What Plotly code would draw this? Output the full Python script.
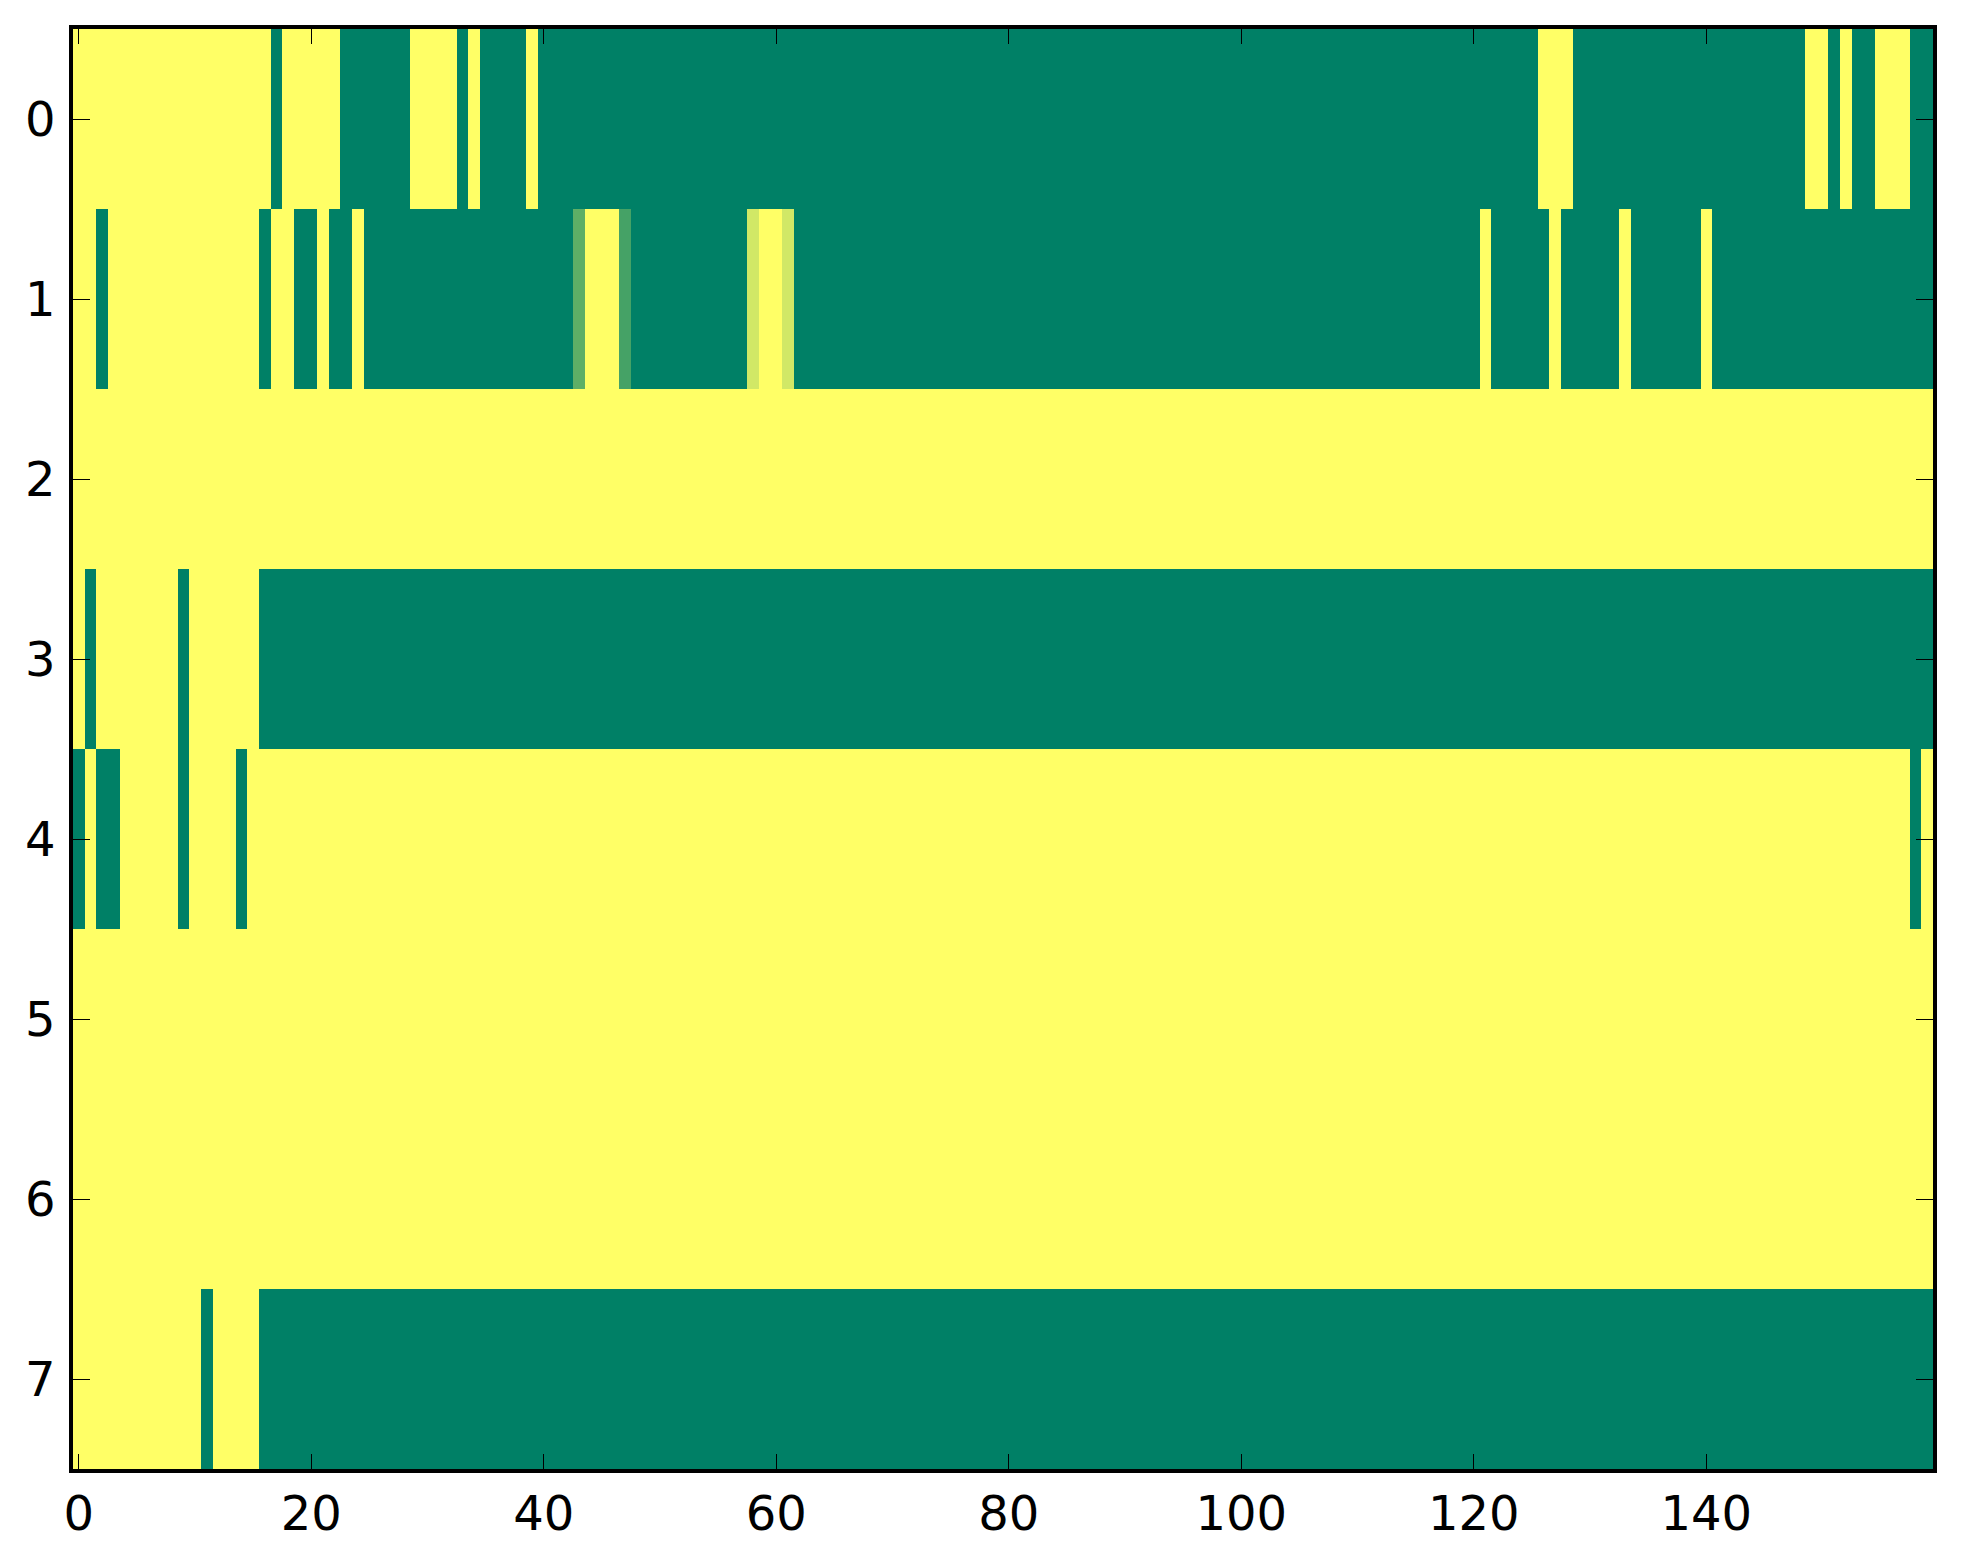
import plotly.graph_objects as go

N_COLS = 160
N_ROWS = 8

# Each row as runs of (first_col, last_col, value)
row0_runs = [(0, 16, 1), (17, 17, 0), (18, 22, 1), (23, 28, 0), (29, 32, 1), (33, 33, 0),
             (34, 34, 1), (35, 38, 0), (39, 39, 1), (40, 125, 0), (126, 128, 1), (129, 148, 0),
             (149, 150, 1), (151, 151, 0), (152, 152, 1), (153, 154, 0), (155, 157, 1), (158, 159, 0)]
row1_runs = [(0, 1, 1), (2, 2, 0), (3, 15, 1), (16, 16, 0), (17, 18, 1), (19, 20, 0), (21, 21, 1),
             (22, 23, 0), (24, 24, 1), (25, 42, 0), (43, 43, 0.37), (44, 46, 1), (47, 47, 0.27),
             (48, 57, 0), (58, 58, 0.82), (59, 60, 1), (61, 61, 0.82), (62, 120, 0), (121, 121, 1),
             (122, 126, 0), (127, 127, 1), (128, 132, 0), (133, 133, 1), (134, 139, 0), (140, 140, 1),
             (141, 159, 0)]
row2_runs = [(0, 159, 1)]
row3_runs = [(0, 0, 1), (1, 1, 0), (2, 8, 1), (9, 9, 0), (10, 15, 1), (16, 159, 0)]
row4_runs = [(0, 0, 0), (1, 1, 1), (2, 3, 0), (4, 8, 1), (9, 9, 0), (10, 13, 1), (14, 14, 0),
             (15, 157, 1), (158, 158, 0), (159, 159, 1)]
row5_runs = [(0, 159, 1)]
row6_runs = [(0, 159, 1)]
row7_runs = [(0, 10, 1), (11, 11, 0), (12, 15, 1), (16, 159, 0)]

x_tick_vals = [0, 20, 40, 60, 80, 100, 120, 140]
y_tick_vals = [0, 1, 2, 3, 4, 5, 6, 7]

all_runs = [row0_runs, row1_runs, row2_runs, row3_runs, row4_runs, row5_runs, row6_runs, row7_runs]


def expand(runs):
    row = [None] * N_COLS
    for a, b, v in runs:
        for i in range(a, b + 1):
            row[i] = v
    return row


z = [expand(r) for r in all_runs]

fig = go.Figure(go.Heatmap(
    z=z,
    x=list(range(N_COLS)),
    y=list(range(N_ROWS)),
    colorscale=[[0, "#008066"], [1, "#ffff66"]],
    zmin=0, zmax=1,
    showscale=False,
    hoverongaps=False,
))

font = dict(family="DejaVu Sans", size=48, color="black")

fig.update_layout(
    width=1963, height=1564,
    margin=dict(l=65, r=38, t=21, b=103),
    paper_bgcolor="white", plot_bgcolor="white",
    font=font,
)
fig.update_xaxes(
    range=[-0.5, 159.5], tickvals=x_tick_vals, ticks="inside", ticklen=15, tickwidth=1.3,
    tickcolor="black", showline=True, linewidth=3.5, linecolor="black", mirror="allticks",
    showgrid=False, zeroline=False, ticklabelstandoff=0, tickfont=font,
)
fig.update_yaxes(
    range=[7.5, -0.5], tickvals=y_tick_vals, ticks="inside", ticklen=17, tickwidth=1.3,
    tickcolor="black", showline=True, linewidth=3.5, linecolor="black", mirror="allticks",
    showgrid=False, zeroline=False, ticklabelstandoff=4, tickfont=font,
)

fig.write_html("out.html")
